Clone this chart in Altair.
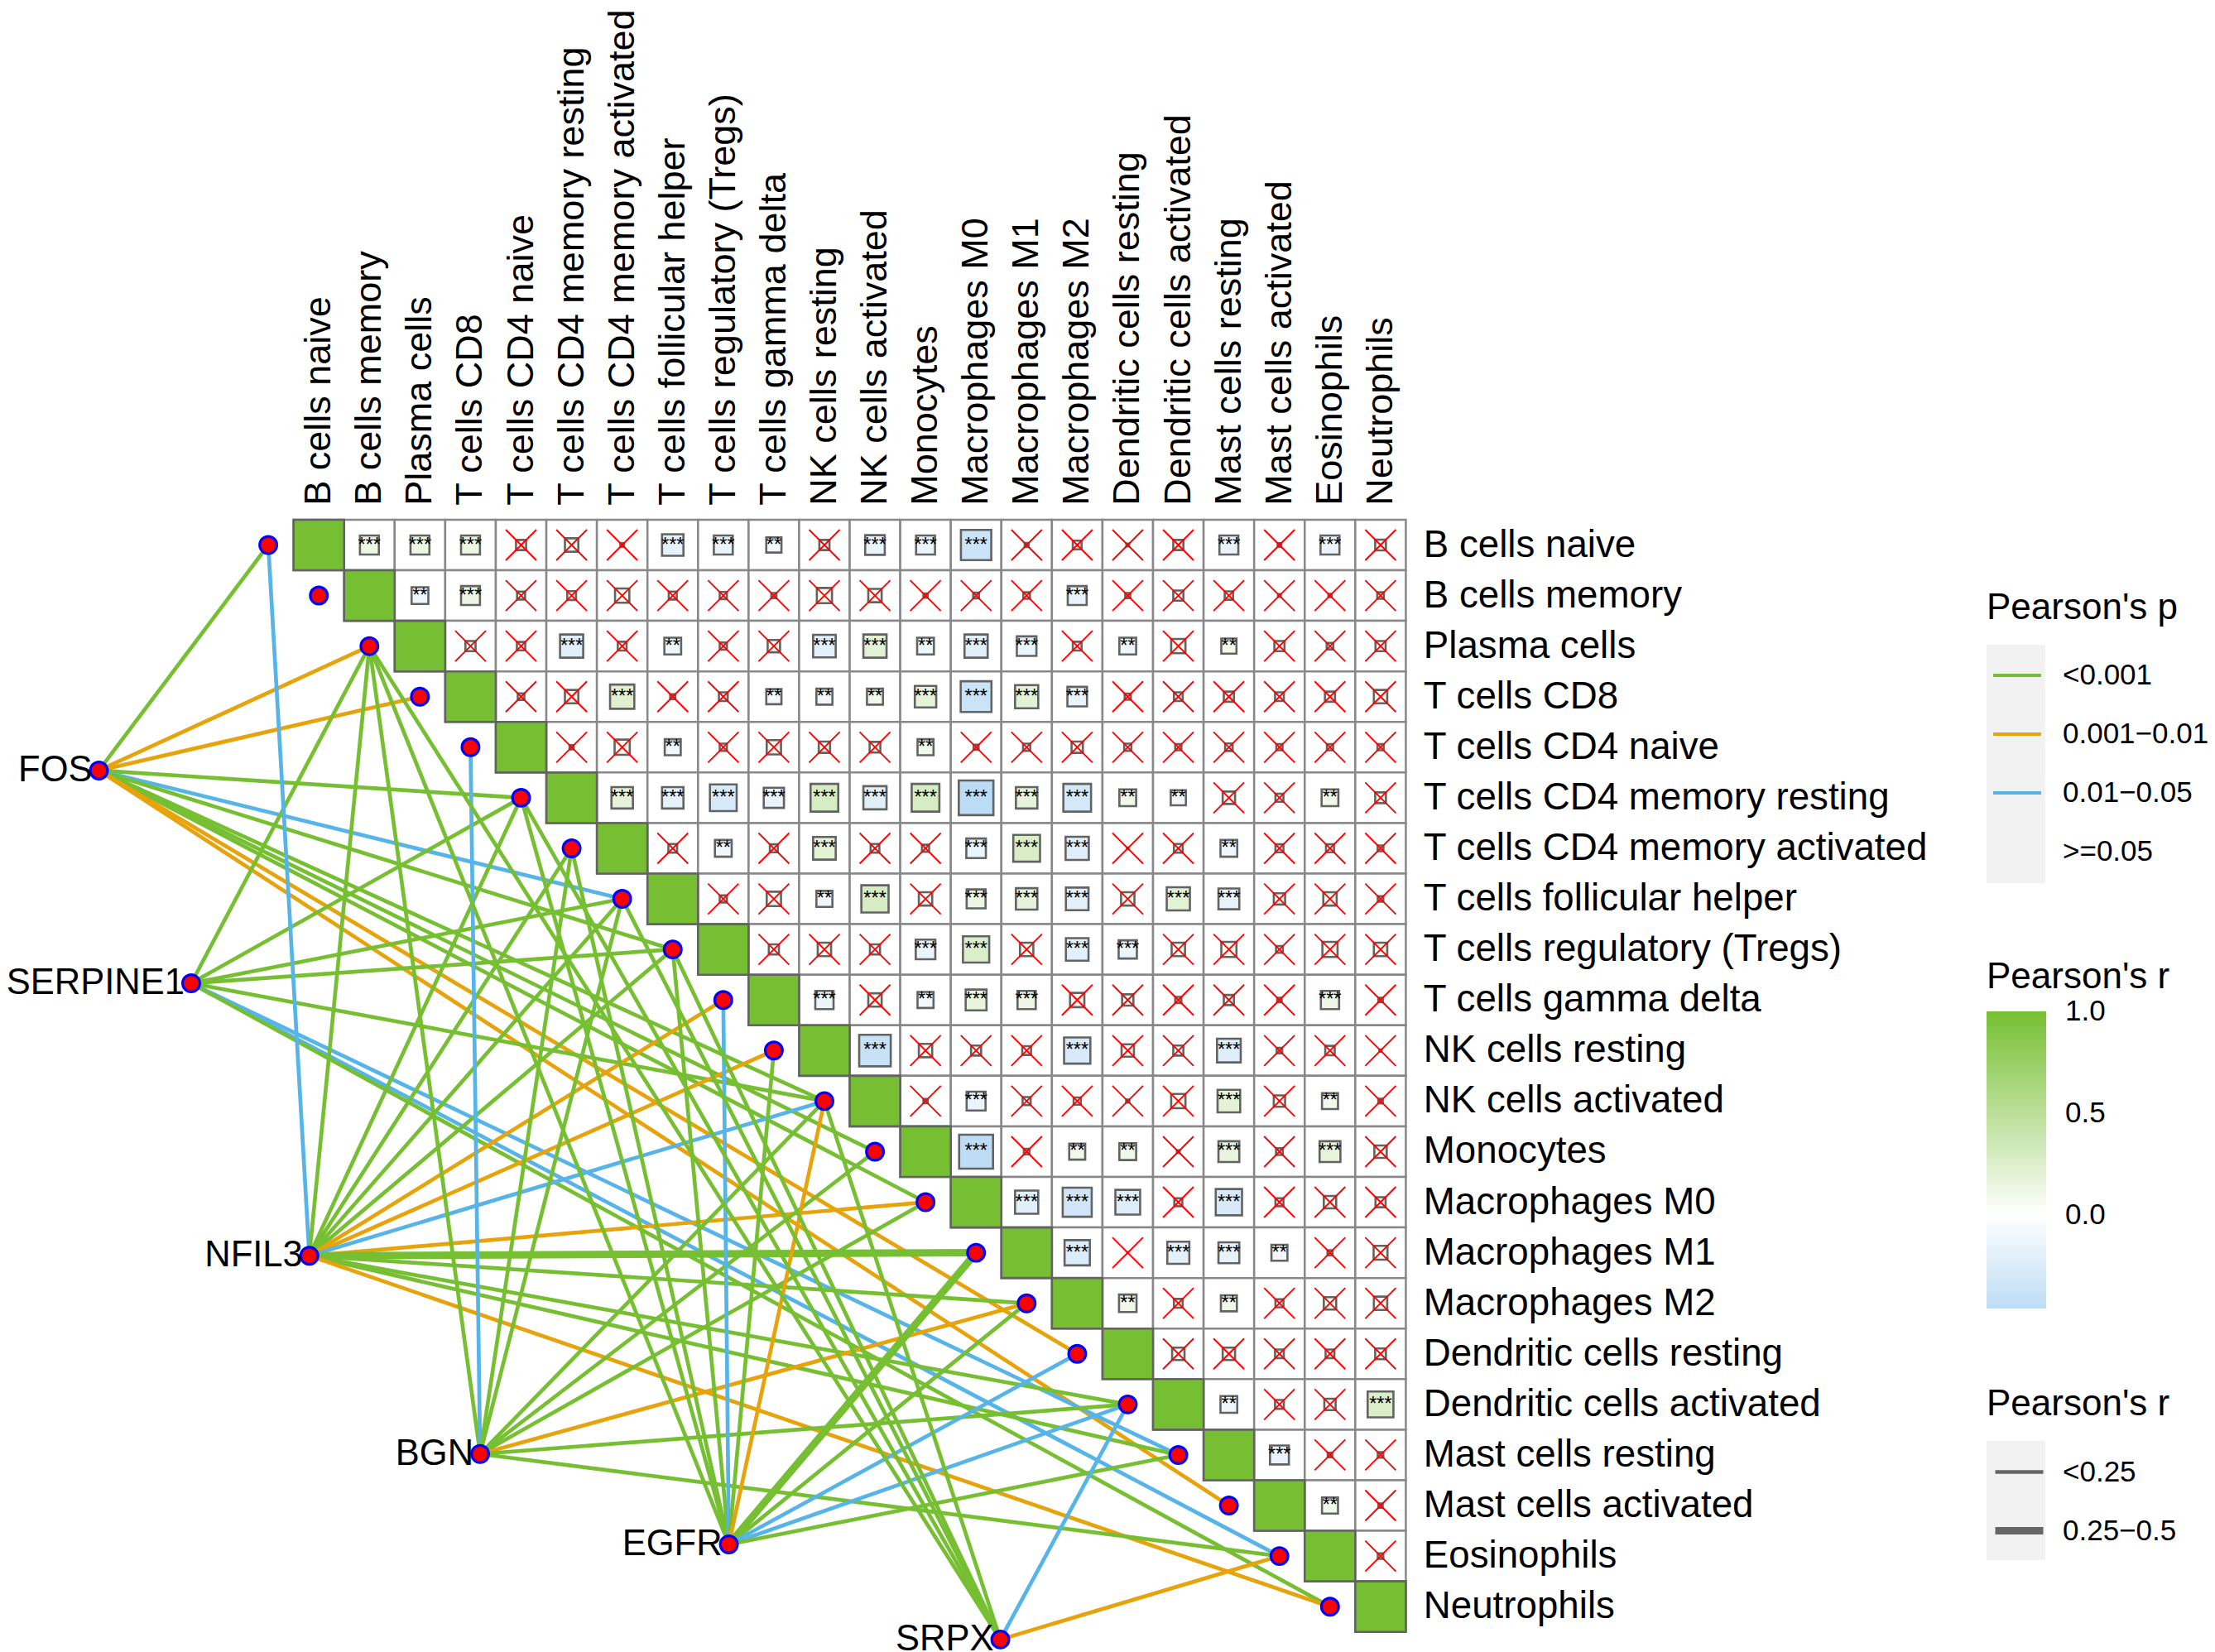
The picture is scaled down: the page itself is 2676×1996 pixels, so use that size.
import math
import altair as alt
import pandas as pd

CELLS = ["B cells naive", "B cells memory", "Plasma cells", "T cells CD8", "T cells CD4 naive",
         "T cells CD4 memory resting", "T cells CD4 memory activated", "T cells follicular helper",
         "T cells regulatory (Tregs)", "T cells gamma delta", "NK cells resting", "NK cells activated",
         "Monocytes", "Macrophages M0", "Macrophages M1", "Macrophages M2", "Dendritic cells resting",
         "Dendritic cells activated", "Mast cells resting", "Mast cells activated", "Eosinophils", "Neutrophils"]

# upper triangle, one list per row, starting right of the diagonal
R_VALUES = [
    [.14, .14, .14, .04, .07, .005, -.18, -.14, -.09, .04, -.15, -.14, -.36, .006, .03, .003, .04, -.14, .005, -.14, .045],
    [-.11, .14, .025, .03, .08, .025, .02, .01, .09, .07, .007, .013, .017, -.14, .01, .04, .027, .003, .004, .017],
    [.04, .027, -.21, .03, -.11, .02, .06, -.2, .21, -.11, -.21, -.15, .03, -.11, .08, .09, .04, .017, .04],
    [.017, .07, .23, .01, .03, -.09, -.1, .1, .18, -.37, .21, -.15, .015, .03, .04, .03, .04, .07],
    [.007, .09, -.1, .02, .08, .05, .045, .1, .01, .02, .05, .02, .015, .022, .015, .015, .015],
    [.18, -.18, -.28, -.16, .3, -.21, .3, -.47, .18, -.3, .11, -.09, .06, .025, .11, .045],
    [.03, -.11, .025, .2, .03, .02, -.15, .28, -.21, .001, .03, -.11, .025, .025, .013],
    [.02, .08, -.1, .29, .07, .14, .18, -.2, .07, .21, -.17, .05, .07, .012],
    [.04, .07, .04, -.15, .27, .07, -.2, -.13, .07, .09, .018, .09, .07],
    [-.13, .07, -.1, .17, .13, .08, .05, .015, .04, .008, .13, .008],
    [-.39, .07, .04, .03, -.27, .06, .04, -.22, .012, .035, .002],
    [.007, -.14, .025, .02, .004, .08, .2, .05, .1, .008],
    [-.45, .012, .1, .11, .003, .17, .018, .17, .06],
    [-.21, -.33, -.24, .025, -.27, .025, .06, .04],
    [-.25, .0005, -.19, -.17, -.1, .01, .075],
    [.12, .03, .1, .025, .06, .07],
    [.06, .06, .03, .03, .045],
    [-.11, .03, .05, .26],
    [-.14, .008, .012],
    [.1, .007],
    [.012],
]
STARS = ["333000332033300003030", "23000000000003000000", "0030200332330202000", "003002223333000000",
         "00200002000000000", "3333333333220020", "020300333002000", "00230333033000", "0003303300000",
         "302330000030", "30003003000", "0300003020", "302203030", "33303000", "3033200", "202000",
         "00000", "2003", "300", "20", "0"]

# gene positions in cell units (column, row)
GENES = {"FOS": (-4.35, 4.46), "SERPINE1": (-2.525, 8.67), "NFIL3": (-.188, 14.06),
         "BGN": (3.19, 17.98), "EGFR": (8.11, 19.77), "SRPX": (13.48, 21.65)}
P_LABELS = ["<0.001", "0.001\u22120.01", "0.01\u22120.05", ">=0.05"]
W_LABELS = ["<0.25", "0.25\u22120.5"]
G, O, B = P_LABELS[0], P_LABELS[1], P_LABELS[2]
LINKS = {
    "FOS": [(0, G), (2, O), (3, O), (5, G), (7, B), (8, G), (11, G), (12, G), (13, G), (16, O), (19, O)],
    "SERPINE1": [(2, G), (5, G), (7, G), (8, G), (11, G), (18, B), (20, B), (21, G)],
    "NFIL3": [(0, B), (2, G), (5, G), (6, G), (7, G), (8, G), (9, O), (10, O), (11, B), (13, O), (14, G),
              (15, G), (17, G), (18, G), (21, O)],
    "BGN": [(2, G), (4, B), (6, G), (7, G), (11, G), (12, G), (13, G), (15, O), (17, G), (20, G)],
    "EGFR": [(2, G), (5, G), (6, G), (8, G), (9, B), (10, G), (11, O), (14, G), (15, G), (16, B), (17, B), (18, G)],
    "SRPX": [(2, G), (5, G), (7, G), (8, G), (11, G), (17, B), (20, O)],
}
THICK = {("NFIL3", 14), ("EGFR", 14)}

GREEN, ORANGE, BLUE = "#76BF32", "#E6A30C", "#56B4E9"
FONT = "Liberation Sans"

cells, diag, sq, stars, crosses = [], [], [], [], []
for r in range(22):
    cells.append(dict(x=r - .5, x2=r + .5, y=r - .5, y2=r + .5))
    diag.append(dict(x=r - .5, x2=r + .5, y=r - .5, y2=r + .5, r=1.0))
    if r == 21:
        break
    for k, (v, s) in enumerate(zip(R_VALUES[r], STARS[r])):
        c = r + 1 + k
        side = math.sqrt(abs(v))
        cells.append(dict(x=c - .5, x2=c + .5, y=r - .5, y2=r + .5))
        sq.append(dict(x=c - side / 2, x2=c + side / 2, y=r - side / 2, y2=r + side / 2, r=v))
        if s == "0":
            crosses.append(dict(x=c, y=r))
        else:
            stars.append(dict(x=c, y=r, t="*" * int(s)))

edges = []
for g, lst in LINKS.items():
    gx, gy = GENES[g]
    for node, p in lst:
        edges.append(dict(x=gx, y=gy, x2=node - 1, y2=node, p=p,
                          w=W_LABELS[1] if (g, node) in THICK else W_LABELS[0]))

nodes = [dict(x=i - 1, y=i) for i in range(22)] + [dict(x=v[0], y=v[1]) for v in GENES.values()]
gene_df = pd.DataFrame([dict(x=v[0], y=v[1], t=k) for k, v in GENES.items()])
top_df = pd.DataFrame([dict(x=i, y=-.78, t=n) for i, n in enumerate(CELLS)])
right_df = pd.DataFrame([dict(x=21.85, y=i, t=n) for i, n in enumerate(CELLS)])

W, H = 2660, 1988
PX = 61.08
Y0 = 650.5
xs = alt.Scale(domain=[-377.2 / PX, (W - 377.2) / PX], nice=False, zero=False)
ys = alt.Scale(domain=[(H - Y0) / PX, -Y0 / PX], nice=False, zero=False)
X = alt.X("x:Q", scale=xs, axis=None)
Y = alt.Y("y:Q", scale=ys, axis=None)

fill = alt.Fill("r:Q",
                scale=alt.Scale(domain=[-.46, 0, 1.001], range=["#BDDCF5", "#FFFFFF", GREEN], interpolate="rgb"),
                legend=alt.Legend(orient="none", legendX=2392, legendY=1151, title="Pearson's r", values=[0, .5, 1],
                                  gradientLength=359, gradientThickness=72, gradientStrokeWidth=0, titleLimit=500,
                                  titleFont=FONT, titleFontSize=44, titleFontWeight="normal", titleColor="black",
                                  titlePadding=19, labelFont=FONT, labelFontSize=35, labelColor="black",
                                  labelOffset=23, tickCount=3))

grid = alt.Chart(pd.DataFrame(cells)).mark_rect(fill="white", stroke="#888888", strokeWidth=2.5).encode(
    x=X, x2="x2:Q", y=Y, y2="y2:Q")
squares = alt.Chart(pd.DataFrame(sq + diag)).mark_rect(stroke="#636363", strokeWidth=2.6).encode(
    x=X, x2="x2:Q", y=Y, y2="y2:Q", fill=fill)
star_t = alt.Chart(pd.DataFrame(stars)).mark_text(font=FONT, fontSize=23.5, color="black", baseline="middle").encode(
    x=X, y=Y, text="t:N")
cross = alt.Chart(pd.DataFrame(crosses)).mark_point(shape="M-1,-1L1,1M-1,1L1,-1", size=1369, filled=False,
                                                     stroke="#FF0000", strokeWidth=1.9, opacity=1).encode(x=X, y=Y)

stroke = alt.Stroke("p:N", scale=alt.Scale(domain=P_LABELS, range=[GREEN, ORANGE, BLUE, "#F2F2F2"]),
                    legend=alt.Legend(orient="none", legendX=2392, legendY=705, title="Pearson's p", zindex=1,
                                      symbolType="stroke", symbolSize=3364, symbolStrokeWidth=4, symbolOffset=6,
                                      rowPadding=22, labelFont=FONT, labelFontSize=35, labelColor="black",
                                      labelOffset=24, labelLimit=400, titleFont=FONT, titleFontSize=44, titleLimit=500,
                                      titleFontWeight="normal", titleColor="black", titlePadding=28))
swidth = alt.StrokeWidth("w:N", scale=alt.Scale(domain=W_LABELS, range=[4.7, 9]),
                         legend=alt.Legend(orient="none", legendX=2392, legendY=1667, title="Pearson's r", zindex=1,
                                           symbolType="stroke", symbolSize=3364, symbolStrokeColor="#666666",
                                           symbolOffset=6, rowPadding=19, labelFont=FONT, labelFontSize=35,
                                           labelColor="black", labelOffset=19, labelLimit=400, titleFont=FONT,
                                           titleFontSize=44, titleLimit=500, titleFontWeight="normal",
                                           titleColor="black", titlePadding=28))
edge = alt.Chart(pd.DataFrame(edges)).mark_rule().encode(x=X, x2="x2:Q", y=Y, y2="y2:Q", stroke=stroke,
                                                         strokeWidth=swidth)
node = alt.Chart(pd.DataFrame(nodes)).mark_point(filled=True, fill="#FF0000", stroke="#0000FF", strokeWidth=3.2,
                                                 size=430, opacity=1).encode(x=X, y=Y)
gene_t = alt.Chart(gene_df).mark_text(align="right", baseline="middle", dx=-8, font=FONT, fontSize=43.5,
                                      color="black").encode(x=X, y=Y, text="t:N")
top_t = alt.Chart(top_df).mark_text(align="left", baseline="middle", angle=270, font=FONT, fontSize=45,
                                    color="black").encode(x=X, y=Y, text="t:N")
right_t = alt.Chart(right_df).mark_text(align="left", baseline="middle", font=FONT, fontSize=45.7,
                                        color="black").encode(x=X, y=Y, text="t:N")

# grey key panels behind the two line legends
panel1 = alt.Chart(pd.DataFrame({"a": [0]})).mark_rect(fill="#F2F2F2").encode(
    x=alt.value(2392), x2=alt.value(2463), y=alt.value(771), y2=alt.value(1059))
panel2 = alt.Chart(pd.DataFrame({"a": [0]})).mark_rect(fill="#F2F2F2").encode(
    x=alt.value(2392), x2=alt.value(2463), y=alt.value(1733), y2=alt.value(1877))

# white ticks on the colour bar
def bar_tick(x1, x2, y):
    return alt.Chart(pd.DataFrame({"a": [0]})).mark_rule(color="white", strokeWidth=1.5).encode(
        x=alt.value(x1), x2=alt.value(x2), y=alt.value(y))

ticks = [bar_tick(2392, 2406, 1338), bar_tick(2449, 2463, 1338), bar_tick(2392, 2406, 1215), bar_tick(2449, 2463, 1215)]

chart = alt.layer(panel1, panel2, grid, squares, star_t, cross, edge, node, gene_t, top_t, right_t, *ticks).resolve_scale(
    x="shared", y="shared"
).properties(width=W, height=H, padding=0, autosize="none", background="white").configure_view(stroke=None)

chart.save("out.html", embed_options={"renderer": "svg", "actions": False})
